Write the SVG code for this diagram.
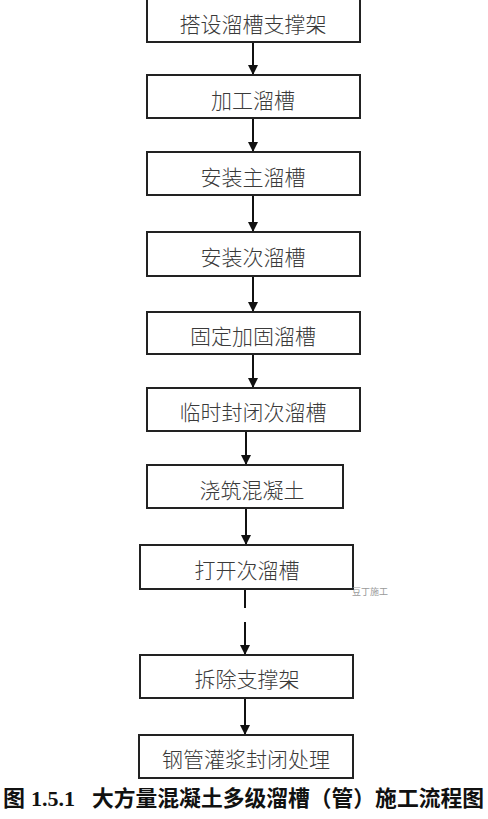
<svg xmlns="http://www.w3.org/2000/svg" width="488" height="819" viewBox="0 0 488 819">
<defs>
<marker id="ah" markerWidth="10" markerHeight="10" refX="10" refY="5" orient="auto" markerUnits="userSpaceOnUse">
<path d="M0,0 L10,5 L0,10 Z" fill="#111"/>
</marker>
<style>
.box{fill:#fff;stroke:#222;stroke-width:2}
.lbl{font-family:"Noto Sans CJK SC","Noto Sans CJK JP",sans-serif;font-size:21px;font-weight:300;fill:#3a3a3a;text-anchor:middle;dominant-baseline:central}
.conn{stroke:#111;stroke-width:2;fill:none}
.cap{font-family:"Noto Sans CJK SC",sans-serif;font-size:22px;font-weight:bold;fill:#111}
.num{font-family:"Liberation Serif",serif;font-size:22px;font-weight:bold;fill:#111}
.wm{font-family:"Noto Sans CJK SC",sans-serif;font-size:9px;fill:#9a9a9a}
</style>
</defs>
<rect width="488" height="819" fill="#fff"/>
<g id="connectors">
<line class="conn" x1="253" y1="42" x2="253" y2="75" marker-end="url(#ah)"/>
<line class="conn" x1="253" y1="118" x2="253" y2="152" marker-end="url(#ah)"/>
<line class="conn" x1="253" y1="195" x2="253" y2="232" marker-end="url(#ah)"/>
<line class="conn" x1="253" y1="276" x2="253" y2="312" marker-end="url(#ah)"/>
<line class="conn" x1="253" y1="354" x2="253" y2="388" marker-end="url(#ah)"/>
<line class="conn" x1="246" y1="431" x2="246" y2="465" marker-end="url(#ah)"/>
<line class="conn" x1="246" y1="508" x2="246" y2="545" marker-end="url(#ah)"/>
<line class="conn" x1="245" y1="589" x2="245" y2="608"/>
<line class="conn" x1="245" y1="622" x2="245" y2="655" marker-end="url(#ah)"/>
<line class="conn" x1="245" y1="698" x2="245" y2="735" marker-end="url(#ah)"/>
</g>
<g id="n1"><rect class="box" x="147" y="-2" width="213" height="44"/><text class="lbl" x="253" y="23">搭设溜槽支撑架</text></g>
<g id="n2"><rect class="box" x="147" y="75" width="213" height="43"/><text class="lbl" x="253" y="99">加工溜槽</text></g>
<g id="n3"><rect class="box" x="147" y="152" width="213" height="43"/><text class="lbl" x="253" y="176">安装主溜槽</text></g>
<g id="n4"><rect class="box" x="147" y="232" width="213" height="44"/><text class="lbl" x="253" y="256">安装次溜槽</text></g>
<g id="n5"><rect class="box" x="147" y="312" width="213" height="42"/><text class="lbl" x="253" y="335">固定加固溜槽</text></g>
<g id="n6"><rect class="box" x="147" y="388" width="213" height="43"/><text class="lbl" x="253" y="411">临时封闭次溜槽</text></g>
<g id="n7"><rect class="box" x="147" y="465" width="196" height="43"/><text class="lbl" x="252" y="489">浇筑混凝土</text></g>
<g id="n8"><rect class="box" x="140" y="545" width="213" height="44"/><text class="lbl" x="247" y="569">打开次溜槽</text></g>
<g id="n9"><rect class="box" x="140" y="655" width="213" height="43"/><text class="lbl" x="247" y="678">拆除支撑架</text></g>
<g id="n10"><rect class="box" x="139" y="735" width="214" height="43"/><text class="lbl" x="246" y="758">钢管灌浆封闭处理</text></g>
<text class="wm" x="352" y="595">豆丁施工</text>
<g id="caption">
<text class="cap" x="3" y="806">图</text>
<text class="num" x="31" y="806">1.5.1</text>
<text class="cap" x="92" y="806" textLength="392" lengthAdjust="spacingAndGlyphs">大方量混凝土多级溜槽（管）施工流程图</text>
</g>
</svg>
